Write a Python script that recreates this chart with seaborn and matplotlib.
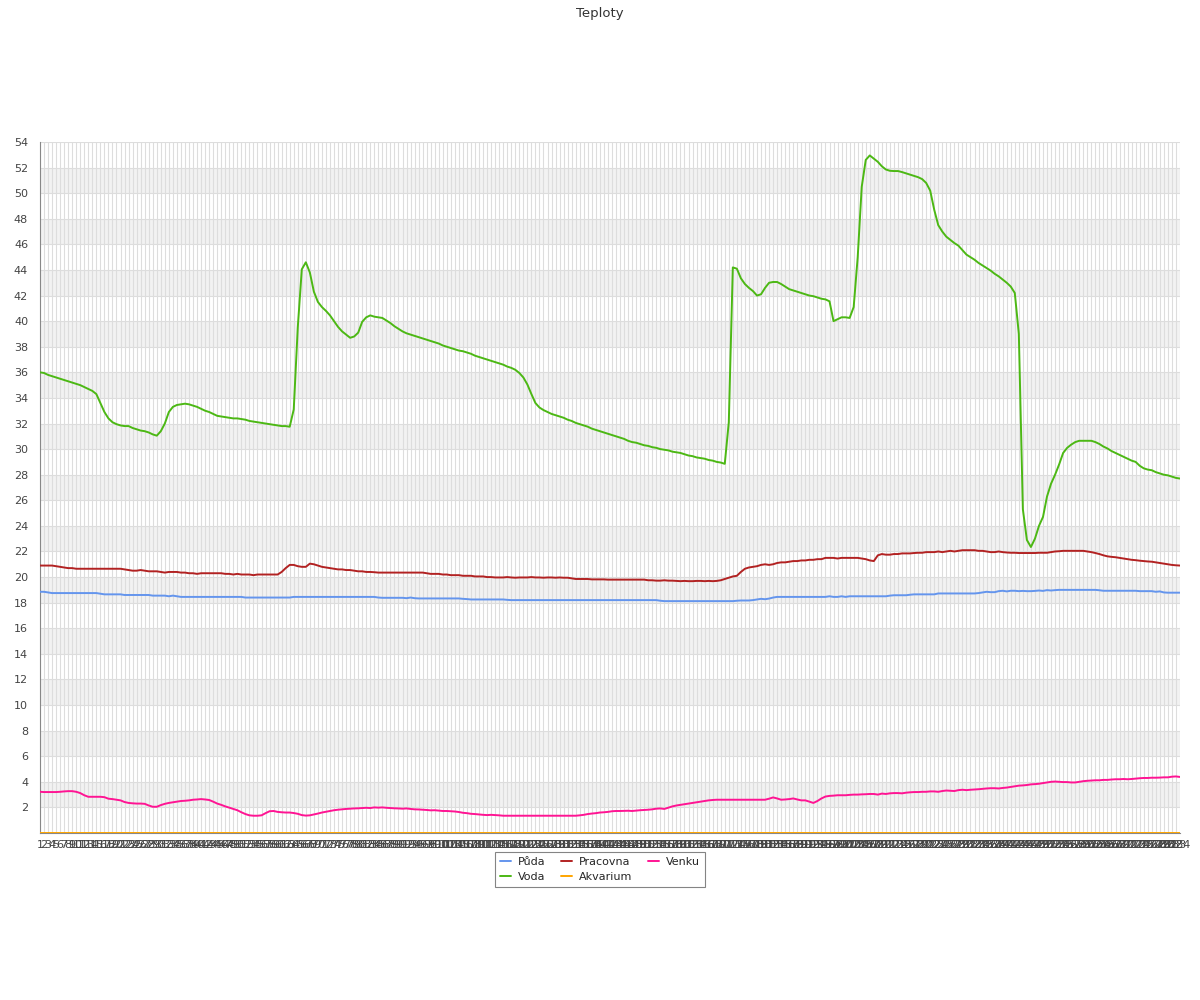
import pandas as pd
import seaborn as sns
import matplotlib.pyplot as plt
from matplotlib.ticker import MultipleLocator

# popisky osy x (1..284)
labels = [str(n) for n in range(1, 285)]

puda = [
    18.85, 18.85, 18.8, 18.75, 18.75, 18.75, 18.75, 18.75, 18.75, 18.75,
    18.75, 18.75, 18.75, 18.75, 18.75, 18.7, 18.65, 18.65, 18.65, 18.65,
    18.65, 18.6, 18.6, 18.6, 18.6, 18.6, 18.6, 18.6, 18.55, 18.55,
    18.55, 18.55, 18.5, 18.55, 18.5, 18.45, 18.45, 18.45, 18.45, 18.45,
    18.45, 18.45, 18.45, 18.45, 18.45, 18.45, 18.45, 18.45, 18.45, 18.45,
    18.45, 18.4, 18.4, 18.4, 18.4, 18.4, 18.4, 18.4, 18.4, 18.4,
    18.4, 18.4, 18.4, 18.45, 18.45, 18.45, 18.45, 18.45, 18.45, 18.45,
    18.45, 18.45, 18.45, 18.45, 18.45, 18.45, 18.45, 18.45, 18.45, 18.45,
    18.45, 18.45, 18.45, 18.45, 18.4, 18.38, 18.38, 18.38, 18.38, 18.38,
    18.38, 18.35, 18.4, 18.35, 18.33, 18.33, 18.33, 18.33, 18.33, 18.33,
    18.33, 18.33, 18.33, 18.33, 18.33, 18.3, 18.28, 18.25, 18.25, 18.25,
    18.25, 18.25, 18.25, 18.25, 18.25, 18.25, 18.22, 18.2, 18.2, 18.2,
    18.2, 18.2, 18.2, 18.2, 18.2, 18.2, 18.2, 18.2, 18.2, 18.2,
    18.2, 18.2, 18.2, 18.2, 18.2, 18.2, 18.2, 18.2, 18.2, 18.2,
    18.2, 18.2, 18.2, 18.2, 18.2, 18.2, 18.2, 18.2, 18.2, 18.2,
    18.2, 18.2, 18.2, 18.2, 18.15, 18.12, 18.12, 18.12, 18.12, 18.12,
    18.12, 18.12, 18.12, 18.12, 18.12, 18.12, 18.12, 18.12, 18.12, 18.12,
    18.12, 18.12, 18.12, 18.15, 18.17, 18.17, 18.17, 18.2, 18.25, 18.3,
    18.27, 18.32, 18.4, 18.45, 18.45, 18.45, 18.45, 18.45, 18.45, 18.45,
    18.45, 18.45, 18.45, 18.45, 18.45, 18.45, 18.5, 18.45, 18.45, 18.5,
    18.45, 18.5, 18.5, 18.5, 18.5, 18.5, 18.5, 18.5, 18.5, 18.5,
    18.5, 18.55, 18.58, 18.58, 18.58, 18.58, 18.62, 18.65, 18.65, 18.65,
    18.65, 18.65, 18.65, 18.72, 18.72, 18.72, 18.72, 18.72, 18.72, 18.72,
    18.72, 18.72, 18.72, 18.75, 18.8, 18.85, 18.82, 18.82, 18.9, 18.93,
    18.88, 18.93, 18.93, 18.9, 18.92, 18.9, 18.9, 18.92, 18.95, 18.92,
    18.98, 18.95, 18.98, 19.0, 19.0, 19.0, 19.0, 19.0, 19.0, 19.0,
    19.0, 19.0, 19.0, 18.97, 18.93, 18.93, 18.93, 18.93, 18.93, 18.93,
    18.93, 18.93, 18.93, 18.9, 18.9, 18.9, 18.9, 18.85, 18.88, 18.8,
    18.78, 18.78, 18.78, 18.78,
]

voda = [
    36.0, 35.95, 35.8, 35.7, 35.6, 35.5, 35.4, 35.3, 35.2, 35.1,
    35.0, 34.85, 34.7, 34.55, 34.3, 33.6, 32.9, 32.4, 32.1, 31.95,
    31.85, 31.8, 31.8, 31.65, 31.55, 31.45, 31.4, 31.3, 31.15, 31.05,
    31.4, 32.0, 32.9, 33.3, 33.45, 33.5, 33.55, 33.5, 33.4, 33.3,
    33.15, 33.0, 32.9, 32.75, 32.6, 32.55, 32.5, 32.45, 32.4, 32.4,
    32.35, 32.3, 32.2, 32.15, 32.1, 32.05, 32.0, 31.95, 31.9, 31.85,
    31.8, 31.8, 31.75, 33.1, 39.5, 44.05, 44.6, 43.8, 42.3, 41.5,
    41.1, 40.8, 40.45, 40.0, 39.55, 39.2, 38.95, 38.7, 38.8, 39.1,
    39.95, 40.3, 40.45, 40.35, 40.3, 40.25, 40.05, 39.85, 39.6, 39.4,
    39.2, 39.05, 38.95, 38.85, 38.75, 38.65, 38.55, 38.45, 38.35, 38.25,
    38.1, 38.0, 37.9, 37.8, 37.7, 37.65, 37.55, 37.45, 37.3, 37.2,
    37.1, 37.0, 36.9, 36.8, 36.7, 36.6, 36.45, 36.35, 36.2, 35.95,
    35.6, 35.05, 34.3, 33.6, 33.25, 33.05, 32.9, 32.75, 32.65, 32.55,
    32.45, 32.3, 32.2, 32.05, 31.95, 31.85, 31.75, 31.6, 31.5, 31.4,
    31.3, 31.2, 31.1, 31.0, 30.9, 30.8, 30.65, 30.55, 30.5, 30.4,
    30.3, 30.25, 30.15, 30.1, 30.0, 29.95, 29.9, 29.8, 29.75, 29.7,
    29.6, 29.5, 29.45, 29.35, 29.3, 29.25, 29.15, 29.1, 29.0, 28.95,
    28.85, 32.1, 44.2, 44.1, 43.35, 42.9, 42.6, 42.35, 42.0, 42.1,
    42.6, 43.0, 43.06, 43.06, 42.9, 42.7, 42.5, 42.4, 42.3, 42.2,
    42.1, 42.0, 41.95, 41.85, 41.75, 41.7, 41.55, 40.0, 40.15, 40.3,
    40.3, 40.25, 41.1, 45.0, 50.5, 52.6, 52.95, 52.7, 52.45, 52.1,
    51.85, 51.75, 51.73, 51.73, 51.65, 51.55, 51.45, 51.35, 51.25, 51.1,
    50.8, 50.2, 48.7, 47.5, 47.0, 46.6, 46.35, 46.1, 45.9, 45.55,
    45.2, 45.0, 44.8, 44.55, 44.35, 44.15, 43.95, 43.7, 43.5, 43.25,
    43.0, 42.7, 42.2, 39.0, 25.3, 22.9, 22.35, 23.0, 24.0, 24.7,
    26.3, 27.3, 28.0, 28.8, 29.7, 30.1, 30.35, 30.55, 30.65, 30.65,
    30.65, 30.65, 30.55, 30.4, 30.2, 30.05, 29.85, 29.7, 29.55, 29.4,
    29.25, 29.1, 29.0, 28.7, 28.5, 28.4, 28.35, 28.2, 28.1, 28.0,
    27.95, 27.85, 27.75, 27.7,
]

pracovna = [
    20.9, 20.9, 20.9, 20.9, 20.85, 20.8, 20.75, 20.7, 20.7, 20.65,
    20.65, 20.65, 20.65, 20.65, 20.65, 20.65, 20.65, 20.65, 20.65, 20.65,
    20.65, 20.6, 20.55, 20.5, 20.5, 20.55, 20.5, 20.45, 20.45, 20.45,
    20.4, 20.35, 20.4, 20.4, 20.4, 20.35, 20.35, 20.3, 20.3, 20.25,
    20.3, 20.3, 20.3, 20.3, 20.3, 20.3, 20.25, 20.25, 20.2, 20.25,
    20.2, 20.2, 20.2, 20.15, 20.2, 20.2, 20.2, 20.2, 20.2, 20.2,
    20.4, 20.7, 20.95, 20.95, 20.85, 20.8, 20.8, 21.05, 21.0, 20.9,
    20.8, 20.75, 20.7, 20.65, 20.6, 20.6, 20.55, 20.55, 20.5, 20.45,
    20.45, 20.4, 20.4, 20.38, 20.35, 20.35, 20.35, 20.35, 20.35, 20.35,
    20.35, 20.35, 20.35, 20.35, 20.35, 20.35, 20.3, 20.25, 20.25, 20.25,
    20.2, 20.2, 20.15, 20.15, 20.15, 20.1, 20.1, 20.1, 20.05, 20.05,
    20.05, 20.0, 20.0, 19.97, 19.97, 19.97, 20.0, 19.97, 19.95, 19.97,
    19.97, 19.97, 20.0, 19.97, 19.97, 19.95, 19.97, 19.97, 19.95, 19.97,
    19.95, 19.95, 19.9, 19.85, 19.85, 19.85, 19.85, 19.82, 19.82, 19.82,
    19.82, 19.8, 19.8, 19.8, 19.8, 19.8, 19.8, 19.8, 19.8, 19.8,
    19.8, 19.75, 19.75, 19.72, 19.72, 19.75, 19.72, 19.72, 19.7, 19.68,
    19.7, 19.68, 19.68, 19.7, 19.7, 19.68, 19.7, 19.68, 19.7, 19.75,
    19.85, 19.95, 20.05, 20.1, 20.4, 20.65, 20.75, 20.8, 20.85, 20.95,
    21.0, 20.95, 21.0, 21.1, 21.15, 21.15, 21.2, 21.25, 21.25, 21.3,
    21.3, 21.35, 21.35, 21.4, 21.4, 21.5, 21.5, 21.5, 21.45, 21.5,
    21.5, 21.5, 21.5, 21.5, 21.45, 21.4, 21.3, 21.25, 21.7, 21.8,
    21.75, 21.75, 21.8, 21.8, 21.85, 21.85, 21.85, 21.88, 21.9, 21.9,
    21.95, 21.95, 21.95, 22.0, 21.95, 22.0, 22.05, 22.0, 22.05, 22.1,
    22.1, 22.1, 22.1, 22.05, 22.05, 22.0, 21.95, 21.95, 22.0, 21.95,
    21.92, 21.9, 21.9, 21.88, 21.88, 21.88, 21.88, 21.88, 21.9, 21.9,
    21.9, 21.95, 22.0, 22.02, 22.05, 22.05, 22.05, 22.05, 22.05, 22.05,
    22.0, 21.95, 21.88, 21.8, 21.7, 21.62, 21.58, 21.55, 21.5, 21.45,
    21.4, 21.35, 21.32, 21.28, 21.25, 21.22, 21.2, 21.15, 21.1, 21.05,
    21.0, 20.95, 20.92, 20.9,
]

venku = [
    3.22, 3.2, 3.2, 3.2, 3.2, 3.22, 3.25, 3.27, 3.27, 3.22,
    3.12, 2.95, 2.83, 2.83, 2.83, 2.83, 2.8, 2.68, 2.65, 2.6,
    2.55, 2.42, 2.35, 2.32, 2.3, 2.3, 2.28, 2.15, 2.05, 2.05,
    2.18, 2.28, 2.35, 2.4, 2.45, 2.5, 2.52, 2.55, 2.6, 2.62,
    2.65, 2.62, 2.58, 2.45, 2.3, 2.2, 2.08, 1.98, 1.88, 1.78,
    1.62, 1.48, 1.38, 1.35, 1.35, 1.38, 1.55, 1.7, 1.72, 1.65,
    1.62, 1.6, 1.6, 1.56, 1.5, 1.4, 1.36, 1.38, 1.45, 1.52,
    1.6, 1.66, 1.72, 1.78, 1.82, 1.85, 1.88, 1.9, 1.92, 1.93,
    1.95, 1.97, 1.95, 2.0, 1.98, 2.0, 1.97, 1.95, 1.93, 1.92,
    1.9, 1.92, 1.88, 1.85, 1.84, 1.82, 1.8, 1.77, 1.78, 1.75,
    1.72, 1.72, 1.7, 1.68, 1.64, 1.58, 1.55, 1.5, 1.48, 1.45,
    1.42, 1.4, 1.42, 1.4, 1.38, 1.35, 1.35, 1.35, 1.35, 1.35,
    1.35, 1.35, 1.35, 1.35, 1.35, 1.35, 1.35, 1.35, 1.35, 1.35,
    1.35, 1.35, 1.35, 1.35, 1.38, 1.42, 1.48, 1.52, 1.55, 1.6,
    1.62, 1.65, 1.7, 1.72, 1.72, 1.73, 1.74, 1.72, 1.75, 1.78,
    1.8, 1.82, 1.85, 1.9, 1.92, 1.88, 1.98, 2.08, 2.15, 2.2,
    2.25, 2.3, 2.35, 2.4, 2.45, 2.5, 2.55, 2.58, 2.6, 2.6,
    2.6, 2.6, 2.6, 2.6, 2.6, 2.6, 2.6, 2.6, 2.6, 2.6,
    2.6, 2.68, 2.78, 2.7, 2.6, 2.62, 2.65, 2.7, 2.62, 2.55,
    2.55, 2.45, 2.35, 2.5, 2.7, 2.85, 2.9, 2.92, 2.95, 2.95,
    2.95, 2.98, 3.0, 3.0, 3.02, 3.03, 3.05, 3.05, 3.0, 3.08,
    3.05, 3.1, 3.12, 3.12, 3.1, 3.15, 3.18, 3.2, 3.2, 3.22,
    3.22, 3.25, 3.25, 3.22, 3.28, 3.32, 3.3, 3.28, 3.35, 3.38,
    3.35, 3.38, 3.4, 3.42, 3.45, 3.48, 3.5, 3.5, 3.48, 3.52,
    3.55, 3.6, 3.65, 3.7, 3.72, 3.75, 3.8, 3.82, 3.85, 3.9,
    3.95, 4.0, 4.02, 4.0, 3.98, 3.98, 3.95, 3.95, 4.0, 4.05,
    4.08, 4.1, 4.12, 4.12, 4.15, 4.15, 4.18, 4.2, 4.2, 4.22,
    4.2, 4.22, 4.25, 4.28, 4.3, 4.3, 4.32, 4.32, 4.33, 4.35,
    4.35, 4.4, 4.42, 4.38,
]

# akvarium cele obdobi na nule
akvarium = [0.0] * len(labels)

series = {
    "Půda": puda,
    "Voda": voda,
    "Pracovna": pracovna,
    "Akvarium": akvarium,
    "Venku": venku,
}
barvy = {
    "Půda": "#6495ed",
    "Voda": "#4cb814",
    "Pracovna": "#b22222",
    "Akvarium": "#ffa500",
    "Venku": "#ff1493",
}

frames = []
for name, vals in series.items():
    frames.append(pd.DataFrame({"idx": range(len(vals)), "teplota": vals, "cidlo": name}))
df = pd.concat(frames, ignore_index=True)

sns.set_style("white")
plt.rcParams["font.family"] = ["DejaVu Sans"]

fig = plt.figure(figsize=(12, 10), dpi=100)
ax = fig.add_axes([0.0333, 0.167, 0.95, 0.691])

# stridave sede pruhy
for k in range(2, 54, 4):
    ax.axhspan(k, k + 2, color="#f2f2f2", zorder=0, lw=0)

sns.lineplot(data=df, x="idx", y="teplota", hue="cidlo",
             hue_order=["Půda", "Voda", "Pracovna", "Akvarium", "Venku"],
             palette=barvy, estimator=None, linewidth=1.4, ax=ax, zorder=3)

handles, names = ax.get_legend_handles_labels()
ax.get_legend().remove()

ax.set_xlim(0, len(labels) - 1)
ax.set_ylim(0, 54)
ax.set_xticks(range(len(labels)))
ax.set_xticklabels(labels, fontsize=8, color="#444444")
ax.yaxis.set_major_locator(MultipleLocator(2))
ax.yaxis.set_minor_locator(MultipleLocator(1))
ax.set_yticks([t for t in range(2, 55, 2)])
ax.tick_params(axis="y", which="major", length=5, color="#888888", labelsize=8, labelcolor="#444444")
ax.tick_params(axis="y", which="minor", length=3, color="#888888")
ax.tick_params(axis="x", length=0, pad=5)
ax.set_xlabel("")
ax.set_ylabel("")

ax.grid(True, axis="both", color="#dddddd", linewidth=0.8, zorder=1)
ax.set_axisbelow(True)
for s in ["top", "right"]:
    ax.spines[s].set_visible(False)
ax.spines["left"].set_color("#888888")
ax.spines["bottom"].set_color("#888888")

leg = fig.legend(handles, names, loc="upper center", bbox_to_anchor=(0.5, 0.154),
                 ncol=3, fontsize=8, frameon=True, fancybox=False,
                 handlelength=1.0, handletextpad=0.6, columnspacing=1.4,
                 borderpad=0.5, labelspacing=0.4)
leg.get_frame().set_edgecolor("#666666")
leg.get_frame().set_linewidth(0.8)

fig.suptitle("Teploty", y=0.993, fontsize=9.5, color="#333333")

fig.savefig("out.png", dpi=100)
